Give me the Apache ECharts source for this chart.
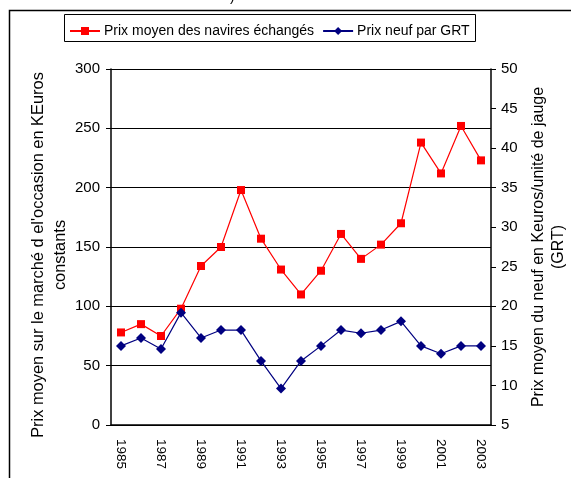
<!DOCTYPE html>
<html>
<head>
<meta charset="utf-8">
<script src="https://cdn.jsdelivr.net/npm/echarts@6/dist/echarts.min.js"></script>
<style>
html,body{margin:0;padding:0;background:#fff;}
#chart{width:571px;height:478px;}
</style>
</head>
<body>
<div id="chart"></div>
<script>
var years = ['1985','1986','1987','1988','1989','1990','1991','1992','1993','1994','1995','1996','1997','1998','1999','2000','2001','2002','2003'];
var prixMoyen = [78, 85, 75, 98, 134, 150, 198, 157, 131, 110, 130, 161, 140, 152, 170, 238, 212, 252, 223];
var prixNeuf = [15, 16, 14.6, 19.2, 16, 17, 17, 13.1, 9.6, 13.1, 15, 17, 16.6, 17, 18.1, 15, 14, 15, 15];
var seriesNames = ['Prix moyen des navires échangés', 'Prix neuf par GRT'];
var leftAxisName = "Prix moyen sur le marché d el'occasion en KEuros\nconstants";
var rightAxisName = "Prix moyen du neuf en Keuros/unité de jauge\n(GRT)";

var chart = echarts.init(document.getElementById('chart'));
var font = 'Liberation Sans, Arial, sans-serif';
chart.setOption({
  animation: false,
  textStyle: {fontFamily: font},
  graphic: [
    {type: 'rect', shape: {x: 9.5, y: 10.5, width: 700, height: 600}, style: {fill: 'none', stroke: '#000', lineWidth: 1.5}, z: 0},
    {type: 'rect', shape: {x: 64.5, y: 14.5, width: 411, height: 27}, style: {fill: '#fff', stroke: '#000', lineWidth: 1}, z: 1},
    {type: 'text', left: 230, top: -10, style: {text: ')', font: '14px Liberation Sans, Arial', fill: '#000'}}
  ],
  legend: {
    top: 19,
    left: 64,
    itemGap: 8,
    itemWidth: 30,
    itemHeight: 10,
    textStyle: {fontSize: 14, color: '#000', fontFamily: font, padding: [0, 0, 0, -1]},
    data: [seriesNames[0], seriesNames[1]],
    z: 5
  },
  grid: {left: 111, right: 80, top: 69, bottom: 53, containLabel: false, outerBoundsMode: 'none'},
  xAxis: {
    type: 'category',
    data: years,
    boundaryGap: true,
    axisLine: {lineStyle: {color: '#000', width: 1.5}},
    axisTick: {interval: 0, length: 5, lineStyle: {color: '#000'}},
    axisLabel: {interval: 1, rotate: -90, fontSize: 13.5, color: '#000', margin: 14, fontFamily: font}
  },
  yAxis: [
    {
      type: 'value', min: 0, max: 300, interval: 50, position: 'left',
      name: leftAxisName, nameLocation: 'middle', nameGap: 40, nameRotate: 90, nameMoveOverlap: false,
      nameTextStyle: {fontSize: 16.4, color: '#000', lineHeight: 22, fontFamily: font, padding: [0, 16, 0, 0]},
      axisLine: {show: true, lineStyle: {color: '#000', width: 1.5}},
      axisTick: {show: true, length: 5, lineStyle: {color: '#000'}},
      axisLabel: {fontSize: 15, color: '#000', margin: 11, fontFamily: font},
      splitLine: {show: true, lineStyle: {color: '#000', width: 1}}
    },
    {
      type: 'value', min: 5, max: 50, interval: 5, position: 'right',
      name: rightAxisName, nameLocation: 'middle', nameGap: 38, nameRotate: 90, nameMoveOverlap: false,
      nameTextStyle: {fontSize: 16, color: '#000', lineHeight: 20, fontFamily: font},
      axisLine: {show: true, lineStyle: {color: '#000', width: 1.5}},
      axisTick: {show: true, length: 5, lineStyle: {color: '#000'}},
      axisLabel: {fontSize: 15, color: '#000', margin: 10, fontFamily: font},
      splitLine: {show: false}
    }
  ],
  series: [
    {
      name: seriesNames[0], type: 'line', yAxisIndex: 0, data: prixMoyen,
      symbol: 'rect', symbolSize: 8,
      lineStyle: {color: '#ff0000', width: 1.2},
      itemStyle: {color: '#ff0000'}
    },
    {
      name: seriesNames[1], type: 'line', yAxisIndex: 1, data: prixNeuf,
      symbol: 'diamond', symbolSize: 10,
      lineStyle: {color: '#000080', width: 1.2},
      itemStyle: {color: '#000080'}
    }
  ]
});
</script>
</body>
</html>
